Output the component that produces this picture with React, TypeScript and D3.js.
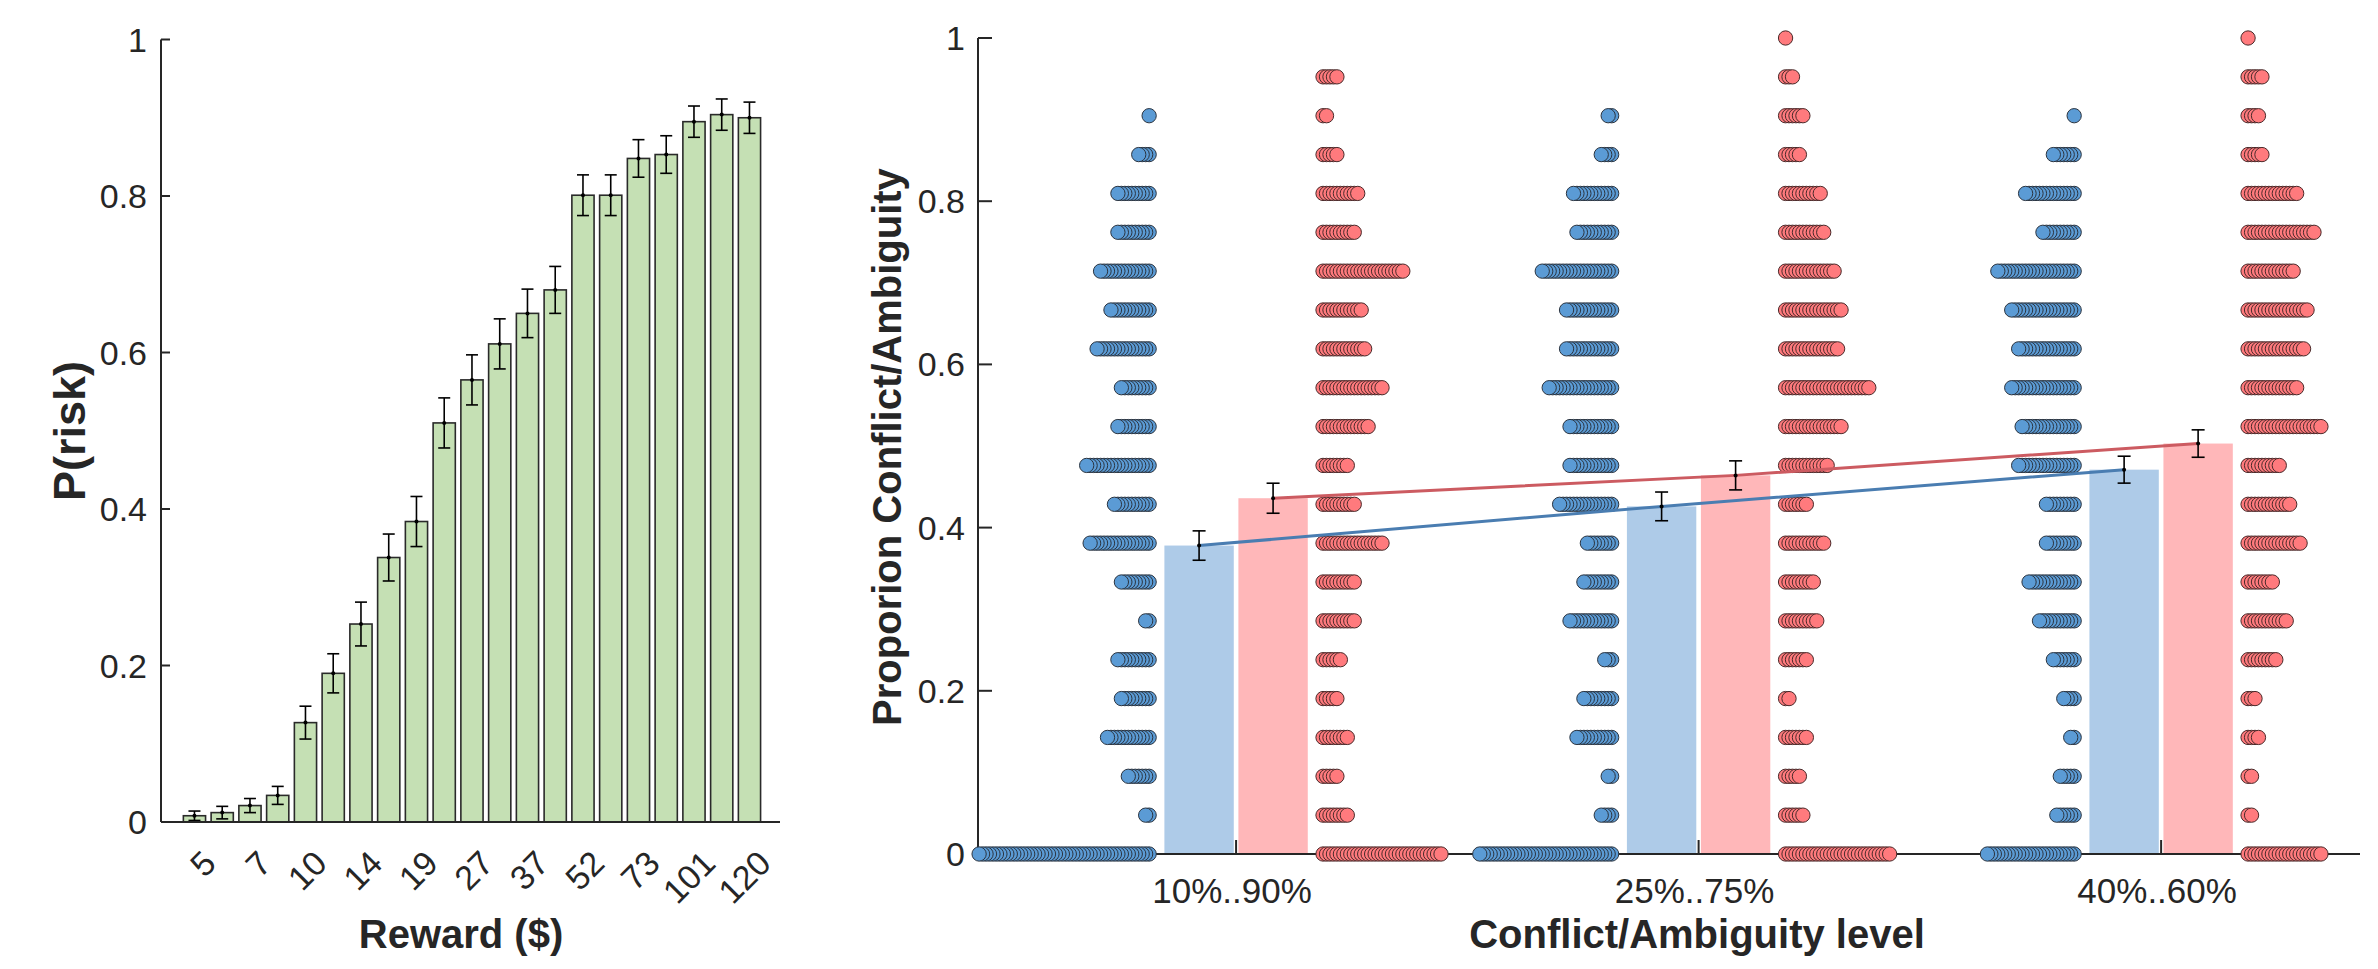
import React from "react";
import * as d3 from "d3";

const W = 2378;
const H = 969;
const FONT = '"Liberation Sans", Arial, Helvetica, sans-serif';

// ---------- Left panel data ----------
const rewardTickLabels = ["5", "7", "10", "14", "19", "27", "37", "52", "73", "101", "120"];
const pRisk = [
  0.008, 0.012, 0.021, 0.034, 0.127, 0.19, 0.253, 0.338, 0.384, 0.51, 0.565,
  0.611, 0.65, 0.68, 0.801, 0.801, 0.848, 0.853, 0.895, 0.904, 0.9,
];
const pRiskErr = [
  0.006, 0.008, 0.009, 0.0115, 0.021, 0.025, 0.028, 0.03, 0.032, 0.032, 0.032,
  0.032, 0.031, 0.03, 0.026, 0.026, 0.024, 0.024, 0.02, 0.02, 0.02,
];

// ---------- Right panel data ----------
const levels = ["10%..90%", "25%..75%", "40%..60%"];
// number of participants at each proportion k/21, k = 0..21
const blueCounts10 = [50, 2, 7, 13, 9, 10, 2, 9, 18, 11, 19, 10, 9, 16, 12, 15, 10, 10, 4, 1, 0, 0];
const redCounts10 = [35, 8, 5, 8, 5, 6, 10, 10, 18, 10, 8, 14, 18, 13, 12, 24, 10, 11, 5, 2, 5, 0];
const blueCounts25 = [39, 4, 2, 11, 9, 3, 13, 9, 8, 16, 13, 13, 19, 14, 14, 21, 11, 12, 4, 2, 0, 0];
const redCounts25 = [31, 6, 5, 7, 2, 7, 10, 9, 12, 7, 13, 17, 25, 16, 17, 15, 12, 11, 5, 6, 3, 1];
const blueCounts40 = [26, 6, 5, 2, 4, 7, 11, 14, 9, 9, 17, 16, 19, 17, 19, 23, 10, 15, 7, 1, 0, 0];
const redCounts40 = [22, 2, 2, 4, 3, 9, 12, 8, 16, 13, 10, 22, 15, 17, 18, 14, 20, 15, 5, 4, 5, 1];
const blueMeans = [0.378, 0.426, 0.471];
const redMeans = [0.436, 0.464, 0.503];
const blueSem = [0.018, 0.0176, 0.0165];
const redSem = [0.0184, 0.0178, 0.0168];

const blueCounts = [blueCounts10, blueCounts25, blueCounts40];
const redCounts = [redCounts10, redCounts25, redCounts40];

const AXIS = "#262626";

function ErrorBar({ x, y0, y1, yc, cap }: { x: number; y0: number; y1: number; yc: number; cap: number }) {
  return (
    <g stroke="#000" strokeWidth={1.6} fill="none">
      <line x1={x} x2={x} y1={y0} y2={y1} />
      <line x1={x - cap / 2} x2={x + cap / 2} y1={y0} y2={y0} />
      <line x1={x - cap / 2} x2={x + cap / 2} y1={y1} y2={y1} />
      <circle cx={x} cy={yc} r={2} fill="#000" stroke="none" />
    </g>
  );
}

function LeftPanel() {
  const x = d3.scaleLinear().domain([-0.206, 22.1]).range([161, 780]);
  const y = d3.scaleLinear().domain([0, 1]).range([822, 39.5]);
  const bw = x(0.8) - x(0);
  const yTicks = [0, 0.2, 0.4, 0.6, 0.8, 1];
  const fmt = (v: number) => (v === 0 ? "0" : v === 1 ? "1" : d3.format(".1f")(v));
  return (
    <g>
      {pRisk.map((v, i) => (
        <rect
          key={"b" + i}
          x={x(i + 1) - bw / 2}
          y={y(v)}
          width={bw}
          height={y(0) - y(v)}
          fill="#c5e0b4"
          stroke="#2a2a2a"
          strokeWidth={1.6}
        />
      ))}
      {pRisk.map((v, i) => (
        <ErrorBar
          key={"e" + i}
          x={x(i + 1)}
          y0={y(v + pRiskErr[i])}
          y1={y(v - pRiskErr[i])}
          yc={y(v)}
          cap={12}
        />
      ))}
      {/* axes */}
      <line x1={x.range()[0]} x2={x.range()[1]} y1={y(0)} y2={y(0)} stroke={AXIS} strokeWidth={2} />
      <line x1={x.range()[0]} x2={x.range()[0]} y1={y(0)} y2={y(1)} stroke={AXIS} strokeWidth={2} />
      {yTicks.map((t) => (
        <g key={"yt" + t}>
          <line x1={x.range()[0]} x2={x.range()[0] + 9} y1={y(t)} y2={y(t)} stroke={AXIS} strokeWidth={2} />
          <text
            x={147}
            y={y(t)}
            textAnchor="end"
            dominantBaseline="central"
            fontFamily={FONT}
            fontSize={34}
            fill="#262626"
          >
            {fmt(t)}
          </text>
        </g>
      ))}
      {rewardTickLabels.map((lab, j) => {
        const xi = x(2 * j + 1) + 15;
        const yi = 857;
        return (
          <text
            key={"xl" + j}
            x={xi}
            y={yi}
            transform={`rotate(-45 ${xi} ${yi})`}
            textAnchor="end"
            dominantBaseline="central"
            fontFamily={FONT}
            fontSize={34}
            fill="#262626"
          >
            {lab}
          </text>
        );
      })}
      <text
        x={69}
        y={431}
        transform="rotate(-90 69 431)"
        textAnchor="middle"
        dominantBaseline="central"
        fontFamily={FONT}
        fontWeight="bold"
        fontSize={45}
        fill="#262626"
      >
        P(risk)
      </text>
      <text
        x={461}
        y={948}
        textAnchor="middle"
        fontFamily={FONT}
        fontWeight="bold"
        fontSize={40}
        fill="#262626"
      >
        Reward ($)
      </text>
    </g>
  );
}

function RightPanel() {
  const x = d3.scaleLinear().domain([0.442, 3.43]).range([978, 2360]);
  const y = d3.scaleLinear().domain([0, 1]).range([854, 38]);
  const yTicks = [0, 0.2, 0.4, 0.6, 0.8, 1];
  const fmt = (v: number) => (v === 0 ? "0" : v === 1 ? "1" : d3.format(".1f")(v));
  const dotR = 7.15;
  const dotStep = 3.47;
  const dotOff = 0.188;
  const barIn = 0.005;
  const barOut = 0.155;
  const barC = (barIn + barOut) / 2;

  const blueLine = d3
    .line<number>()
    .x((_, i) => x(i + 1 - barC))
    .y((d) => y(d));
  const redLine = d3
    .line<number>()
    .x((_, i) => x(i + 1 + barC))
    .y((d) => y(d));

  return (
    <g>
      {/* bars */}
      {levels.map((_, g) => (
        <g key={"bars" + g}>
          <rect
            x={x(g + 1 - barOut)}
            y={y(blueMeans[g])}
            width={x(g + 1 - barIn) - x(g + 1 - barOut)}
            height={y(0) - y(blueMeans[g])}
            fill="#aecbe8"
          />
          <rect
            x={x(g + 1 + barIn)}
            y={y(redMeans[g])}
            width={x(g + 1 + barOut) - x(g + 1 + barIn)}
            height={y(0) - y(redMeans[g])}
            fill="#ffb7b9"
          />
        </g>
      ))}
      {/* axes */}
      <line x1={x.range()[0]} x2={x.range()[1]} y1={y(0)} y2={y(0)} stroke={AXIS} strokeWidth={2} />
      <line x1={x.range()[0]} x2={x.range()[0]} y1={y(0)} y2={y(1)} stroke={AXIS} strokeWidth={2} />
      {yTicks.map((t) => (
        <g key={"ryt" + t}>
          <line x1={x.range()[0]} x2={x.range()[0] + 14} y1={y(t)} y2={y(t)} stroke={AXIS} strokeWidth={2} />
          <text
            x={965}
            y={y(t)}
            textAnchor="end"
            dominantBaseline="central"
            fontFamily={FONT}
            fontSize={34}
            fill="#262626"
          >
            {fmt(t)}
          </text>
        </g>
      ))}
      {levels.map((lab, g) => (
        <g key={"rxt" + g}>
          <line x1={x(g + 1)} x2={x(g + 1)} y1={y(0)} y2={y(0) - 14} stroke={AXIS} strokeWidth={2} />
          <text
            x={x(g + 1) - 4}
            y={903}
            textAnchor="middle"
            fontFamily={FONT}
            fontSize={35}
            fill="#262626"
          >
            {lab}
          </text>
        </g>
      ))}
      {/* dots */}
      {levels.map((_, g) => (
        <g key={"dots" + g}>
          {blueCounts[g].map((n, k) =>
            d3.range(n).map((i) => (
              <circle
                key={`b${k}-${i}`}
                cx={x(g + 1 - dotOff) - i * dotStep}
                cy={y(k / 21)}
                r={dotR}
                fill="#5b9bd5"
                stroke="#2b3440"
                strokeWidth={1}
              />
            ))
          )}
          {redCounts[g].map((n, k) =>
            d3.range(n).map((i) => (
              <circle
                key={`r${k}-${i}`}
                cx={x(g + 1 + dotOff) + i * dotStep}
                cy={y(k / 21)}
                r={dotR}
                fill="#ff7a7d"
                stroke="#4a2a2a"
                strokeWidth={1}
              />
            ))
          )}
        </g>
      ))}
      {/* mean lines */}
      <path d={blueLine(blueMeans) || ""} fill="none" stroke="#4a7db1" strokeWidth={3} />
      <path d={redLine(redMeans) || ""} fill="none" stroke="#cc5b61" strokeWidth={3} />
      {levels.map((_, g) => (
        <g key={"err" + g}>
          <ErrorBar
            x={x(g + 1 - barC)}
            y0={y(blueMeans[g] + blueSem[g])}
            y1={y(blueMeans[g] - blueSem[g])}
            yc={y(blueMeans[g])}
            cap={13}
          />
          <ErrorBar
            x={x(g + 1 + barC)}
            y0={y(redMeans[g] + redSem[g])}
            y1={y(redMeans[g] - redSem[g])}
            yc={y(redMeans[g])}
            cap={13}
          />
        </g>
      ))}
      <text
        x={887}
        y={447}
        transform="rotate(-90 887 447)"
        textAnchor="middle"
        dominantBaseline="central"
        fontFamily={FONT}
        fontWeight="bold"
        fontSize={40}
        fill="#262626"
      >
        Proporion Conflict/Ambiguity
      </text>
      <text
        x={1697}
        y={948}
        textAnchor="middle"
        fontFamily={FONT}
        fontWeight="bold"
        fontSize={40}
        fill="#262626"
      >
        Conflict/Ambiguity level
      </text>
    </g>
  );
}

export default function App() {
  return (
    <svg
      width={W}
      height={H}
      viewBox={`0 0 ${W} ${H}`}
      style={{ position: "absolute", left: 0, top: 0, background: "#fff" }}
    >
      <rect x={0} y={0} width={W} height={H} fill="#fff" />
      <LeftPanel />
      <RightPanel />
    </svg>
  );
}
